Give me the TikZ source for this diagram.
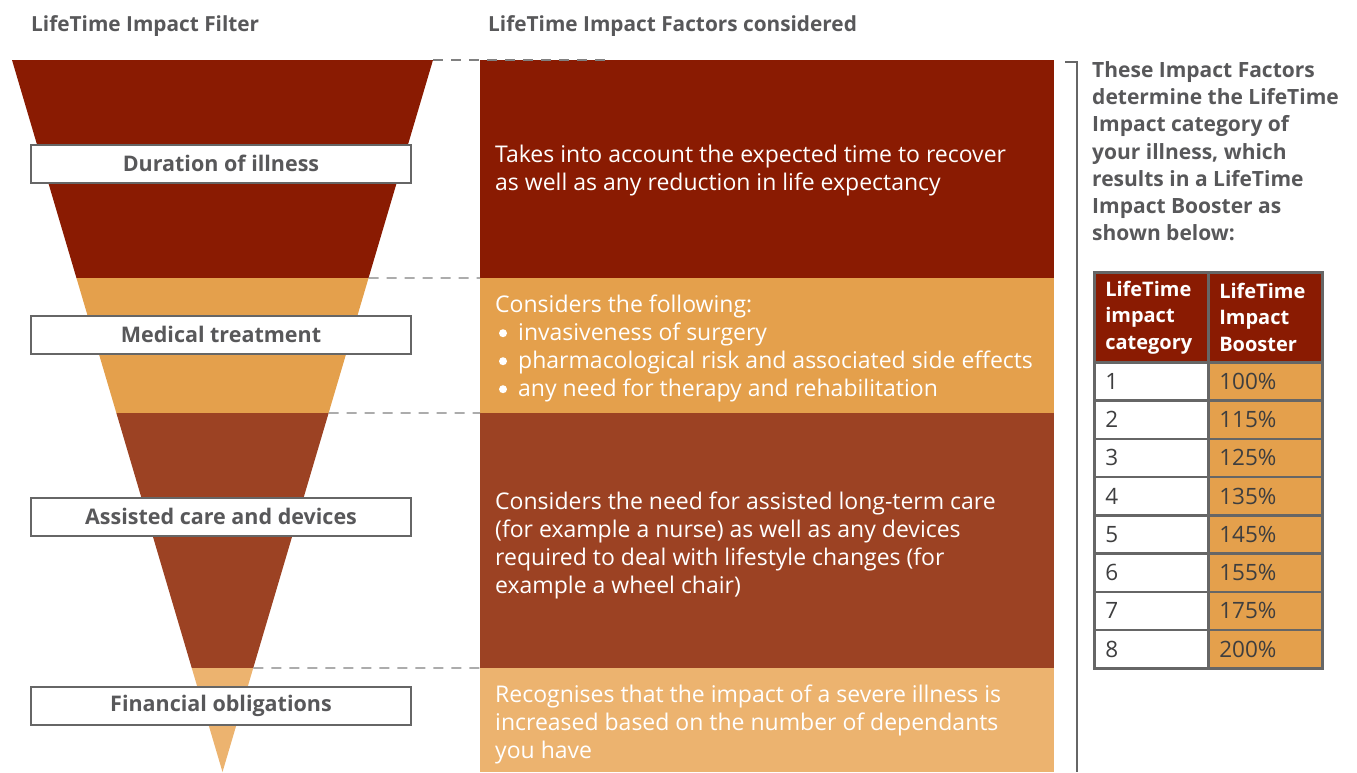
\documentclass[tikz,border=0pt]{standalone}
\usepackage{fontspec}
\setmainfont{Open Sans}
\usetikzlibrary{calc}
\definecolor{dred}{HTML}{8A1B02}
\definecolor{orng}{HTML}{E4A04C}
\definecolor{brwn}{HTML}{9C4223}
\definecolor{lorng}{HTML}{ECB36F}
\definecolor{txtgray}{HTML}{58585A}
\definecolor{bordgray}{HTML}{666666}
\definecolor{dashgray}{HTML}{808080}
\tikzset{
  panel/.style={rectangle, draw=none, inner sep=0pt, minimum width=574pt, anchor=north west},
  ptext/.style={anchor=west, align=left, text=white, inner sep=0pt,
     font=\fontsize{23}{28}\selectfont},
  labelbox/.style={rectangle, draw=bordgray, line width=2pt, fill=white, minimum width=380pt,
     minimum height=38pt, inner sep=0pt, text=txtgray, font=\fontsize{21.5}{24}\selectfont\bfseries},
  header/.style={anchor=west, inner sep=0pt, text=txtgray, font=\fontsize{20.8}{24}\selectfont\bfseries},
  sep/.style={dashgray, line width=1.2pt, dash pattern=on 10pt off 8pt},
  cellL/.style={rectangle, draw=bordgray, line width=2.5pt, fill=white, anchor=north west,
     text width=92pt, inner xsep=11pt, inner ysep=0pt, minimum height=38.25pt, align=left,
     text=txtgray!70!black, font=\fontsize{22.5}{24}\selectfont},
  cellR/.style={cellL, fill=orng},
  cellH/.style={cellL, fill=dred, minimum height=90pt, text=white,
     font=\fontsize{20}{26.5}\selectfont\bfseries},
  bracket/.style={bordgray, line width=2.5pt},
  bulletdot/.style={fill=white},
}
\begin{document}
\begin{tikzpicture}[x=1pt,y=-1pt]
\useasboundingbox (0,0) rectangle (1357,772);
% headers
\node[header] (h1) at (31,26) {LifeTime Impact Filter};
\node[header] (h2) at (488,26) {LifeTime Impact Factors considered};
% funnel
\coordinate (TL) at (12,60);
\coordinate (TR) at (433,60);
\coordinate (A) at (222.5,772);
\coordinate (L1) at ($(TL)!0.30618!(A)$);
\coordinate (R1) at ($(TR)!0.30618!(A)$);
\coordinate (L2) at ($(TL)!0.49579!(A)$);
\coordinate (R2) at ($(TR)!0.49579!(A)$);
\coordinate (L3) at ($(TL)!0.85393!(A)$);
\coordinate (R3) at ($(TR)!0.85393!(A)$);
\fill[dred] (TL) -- (TR) -- (R1) -- (L1) -- cycle;
\fill[orng] (L1) -- (R1) -- (R2) -- (L2) -- cycle;
\fill[brwn] (L2) -- (R2) -- (R3) -- (L3) -- cycle;
\fill[lorng] (L3) -- (R3) -- (A) -- cycle;
% panels
\node[panel, fill=dred, minimum height=218pt] (p1) at (480,60) {};
\node[panel, fill=orng, minimum height=135pt] (p2) at (480,278) {};
\node[panel, fill=brwn, minimum height=255pt] (p3) at (480,413) {};
\node[panel, fill=lorng, minimum height=104pt] (p4) at (480,668) {};
% dashed separators
\coordinate (D0) at (612,60);
\draw[sep] (TR) -- (D0);
\draw[sep] (R1) -- (p2.north west);
\draw[sep] (R2) -- (p3.north west);
\draw[sep] (R3) -- (p4.north west);
% panel texts
\node[ptext] (t1) at ($(p1.west)+(15,1.5)$) {Takes into account the expected time to recover\\as well as any reduction in life expectancy};
\node[ptext] (t2) at ($(p2.west)+(15,3)$) {Considers the following:\\
\hspace*{23pt}invasiveness of surgery\\
\hspace*{23pt}pharmacological risk and associated side effects\\
\hspace*{23pt}any need for therapy and rehabilitation};
\fill[bulletdot] ($(t2.west)+(8,-15.5)$) circle (4pt);
\fill[bulletdot] ($(t2.west)+(8,12.5)$) circle (4pt);
\fill[bulletdot] ($(t2.west)+(8,40.5)$) circle (4pt);
\node[ptext] (t3) at ($(p3.west)+(15,4.5)$) {Considers the need for assisted long-term care\\(for example a nurse) as well as any devices\\required to deal with lifestyle changes (for\\example a wheel chair)};
\node[ptext] (t4) at ($(p4.west)+(15,4)$) {Recognises that the impact of a severe illness is\\increased based on the number of dependants\\you have};
% label boxes
\node[labelbox] (b1) at (221,163.5) {Duration of illness};
\node[labelbox] (b2) at (221,334.5) {Medical treatment};
\node[labelbox] (b3) at (221,516.5) {Assisted care and devices};
\node[labelbox] (b4) at (221,705.5) {Financial obligations};
% bracket
\coordinate (k0) at (1065,62);
\coordinate (k1) at (1077,62);
\coordinate (k2) at (1077,772);
\draw[bracket] (k0) -- (k1) -- (k2);
% right text
\node[anchor=north west, align=left, inner sep=0pt, text=txtgray,
  font=\fontsize{21}{27.3}\selectfont\bfseries] (rt) at (1092,61)
  {These Impact Factors\\determine the LifeTime\\Impact category of\\your illness, which\\results in a LifeTime\\Impact Booster as\\shown below:};
% table
\node[cellH] (hc1) at (1093,271) {LifeTime\\impact\\category};
\node[cellH] (hc2) at (1207,271) {LifeTime\\Impact\\Booster};
\foreach \i/\v in {1/100,2/115,3/125,4/135,5/145,6/155,7/175,8/200}{
  \node[cellL] (cl\i) at (1093,{361+(\i-1)*38.25}) {\i};
  \node[cellR] (cr\i) at (1207,{361+(\i-1)*38.25}) {\v\%};
}
\end{tikzpicture}
\end{document}
